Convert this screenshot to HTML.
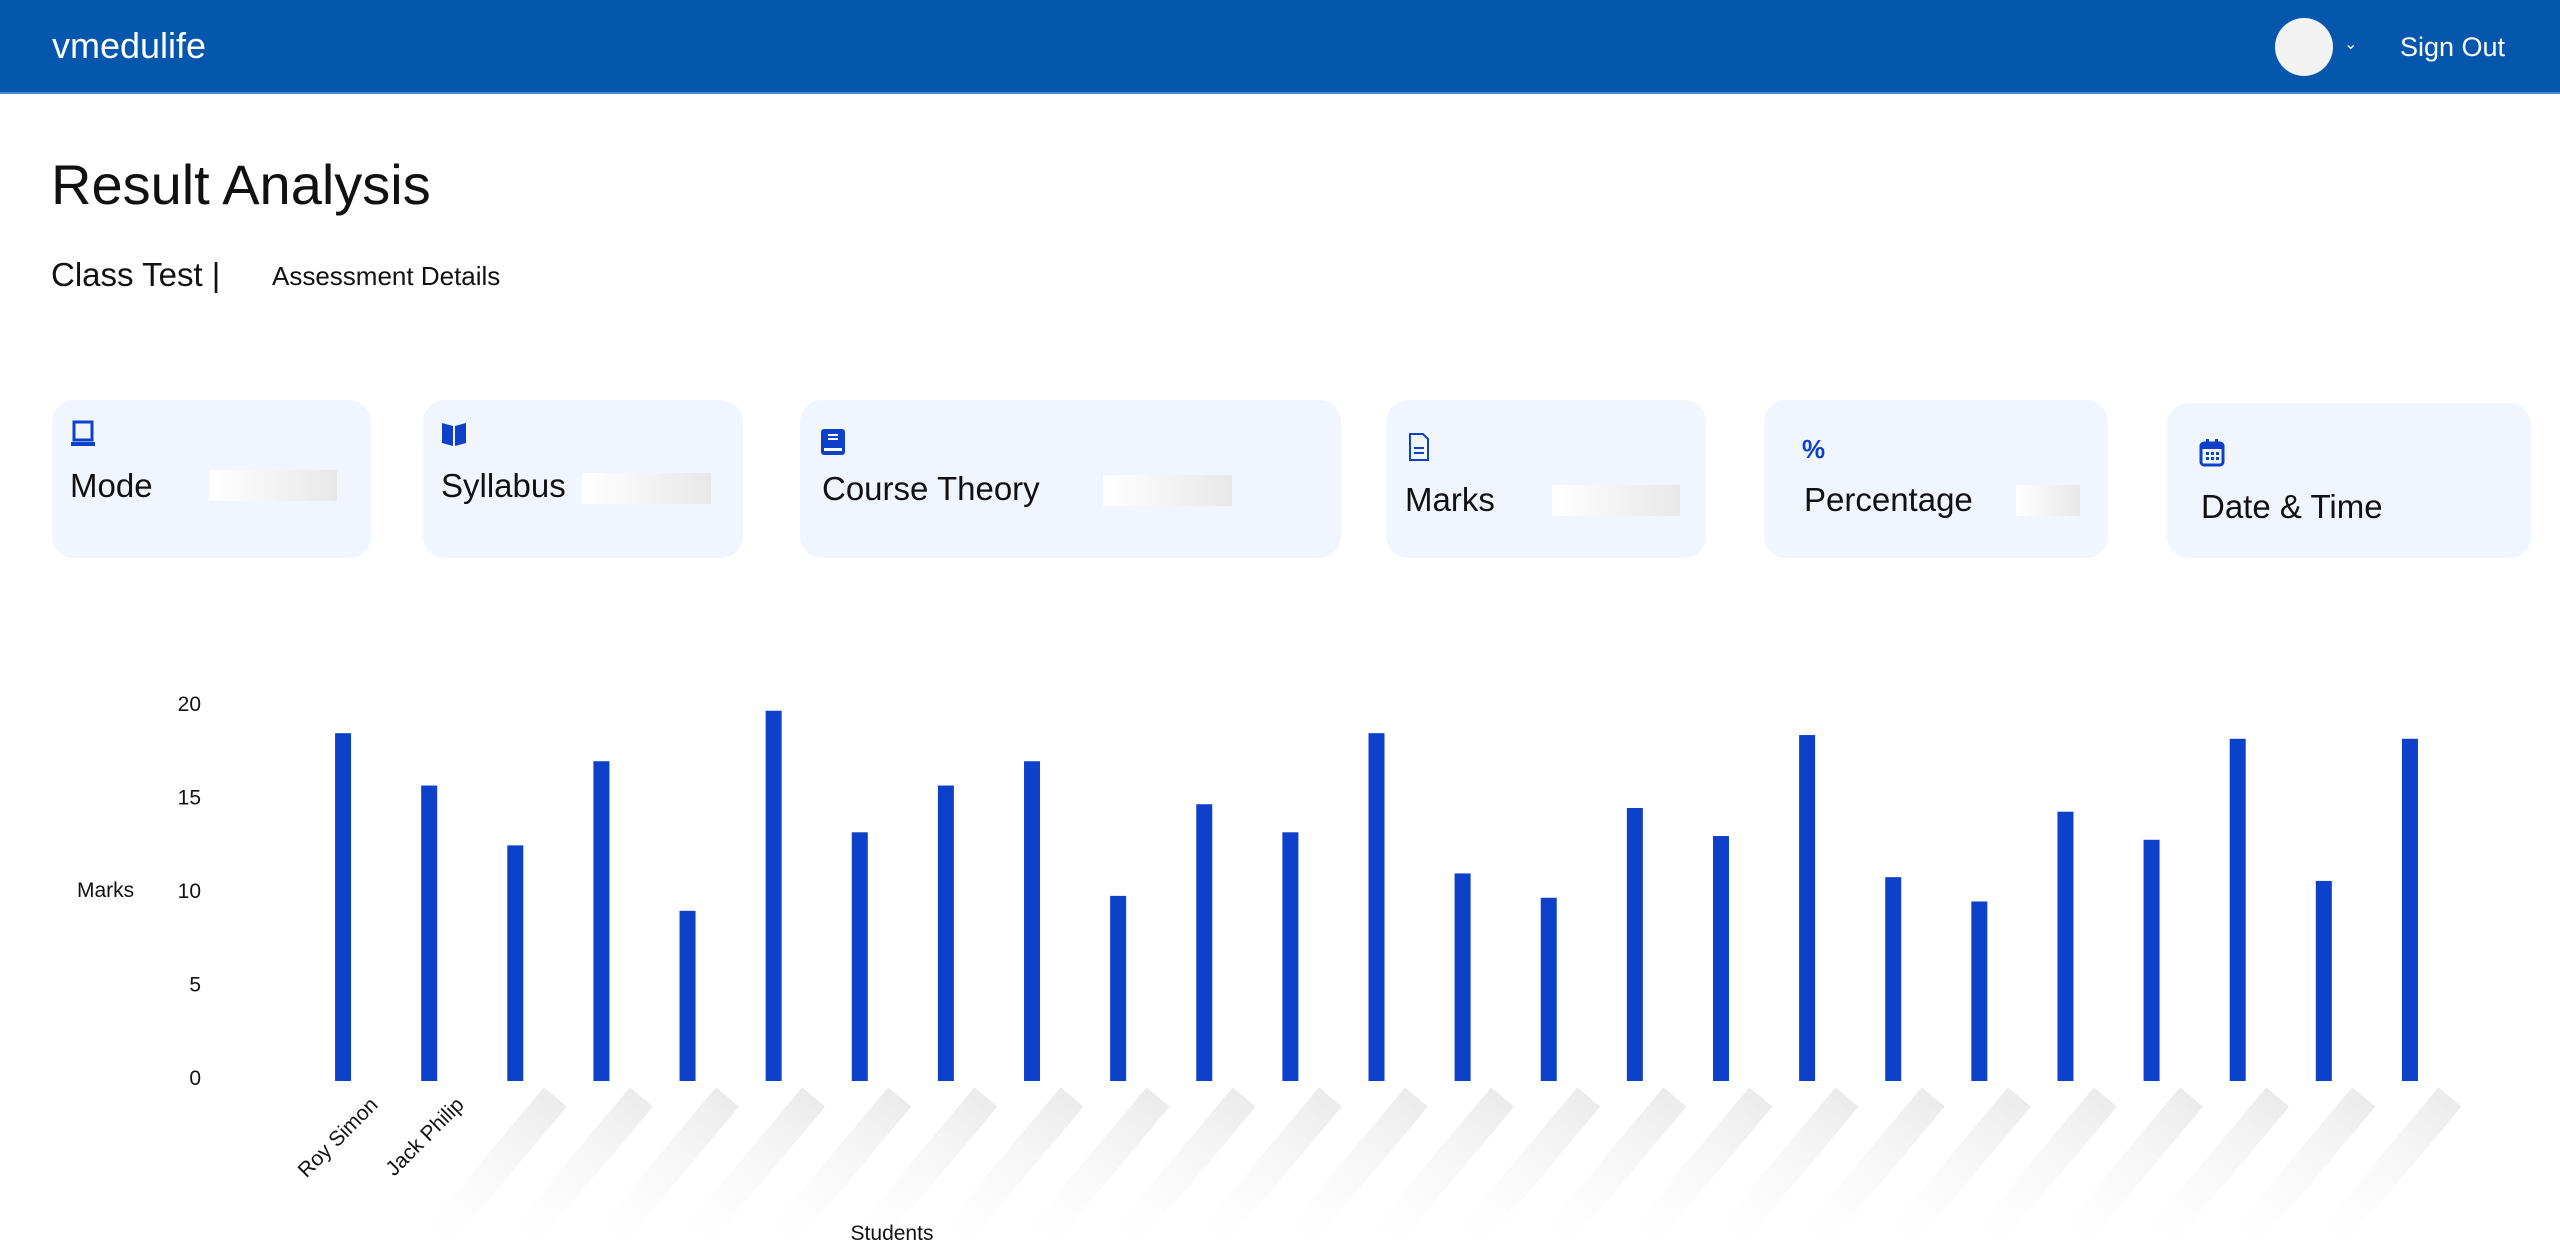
<!DOCTYPE html>
<html><head><meta charset="utf-8"><style>
*{margin:0;padding:0;box-sizing:border-box}
body{width:2560px;height:1259px;background:#fff;font-family:"Liberation Sans",sans-serif;position:relative;overflow:hidden;color:#111}
.hdr{position:absolute;left:0;top:0;width:2560px;height:94px;background:#0557ad;border-bottom:2px solid #4a8ad6}
.abs{position:absolute}
.card{position:absolute;background:#f0f5fe;border-radius:22px}
.card .lbl{position:absolute;font-size:33px;color:#111}
.ph{position:absolute;height:31px;background:linear-gradient(90deg,#fff,#e8e8e8)}
.ic{position:absolute;width:26px;height:28px}
</style></head><body>
<div class="hdr">
 <div class="abs" style="left:52px;top:25px;font-size:36px;color:#fff">vmedulife</div>
 <div class="abs" style="left:2275px;top:18px;width:58px;height:58px;border-radius:50%;background:#f2f2f2"></div>
 <div class="abs" style="left:2344px;top:34px;font-size:16px;color:#fff">&#8964;</div>
 <div class="abs" style="left:2400px;top:32px;font-size:27px;color:#fff">Sign Out</div>
</div>
<div class="abs" style="left:51px;top:152px;font-size:56px;color:#111">Result Analysis</div>
<div class="abs" style="left:51px;top:256px;font-size:33px">Class Test |</div>
<div class="abs" style="left:272px;top:261px;font-size:26px">Assessment Details</div>

<div class="card" style="left:52px;top:400px;width:319px;height:158px">
 <svg class="ic" style="left:18px;top:20px" viewBox="0 0 26 28"><rect x="4" y="2" width="18" height="18" fill="none" stroke="#0d41c9" stroke-width="3"/><rect x="1" y="22" width="24" height="4" fill="#0d41c9"/></svg>
 <div class="lbl" style="left:18px;top:67px">Mode</div>
 <div class="ph" style="left:157px;top:70px;width:128px"></div>
</div>
<div class="card" style="left:423px;top:400px;width:320px;height:158px">
 <svg class="ic" style="left:18px;top:20px" viewBox="0 0 26 28"><path d="M1 3 L12 6 L12 26 L1 23 Z M14 6 L25 3 L25 23 L14 26 Z" fill="#0d41c9"/></svg>
 <div class="lbl" style="left:18px;top:67px">Syllabus</div>
 <div class="ph" style="left:159px;top:73px;width:129px"></div>
</div>
<div class="card" style="left:800px;top:400px;width:541px;height:158px">
 <svg class="ic" style="left:20px;top:28px" viewBox="0 0 26 28"><rect x="1" y="1" width="24" height="26" rx="3" fill="#0d41c9"/><rect x="8" y="6" width="10" height="2" fill="#fff"/><rect x="8" y="10" width="10" height="2" fill="#fff"/><rect x="4" y="20" width="18" height="3" fill="#fff"/></svg>
 <div class="lbl" style="left:22px;top:70px">Course Theory</div>
 <div class="ph" style="left:303px;top:75px;width:129px"></div>
</div>
<div class="card" style="left:1386px;top:400px;width:320px;height:158px">
 <svg class="ic" style="left:20px;top:33px" viewBox="0 0 26 28"><path d="M4 1 H17 L22 6 V27 H4 Z" fill="none" stroke="#0d41c9" stroke-width="2"/><rect x="8" y="14" width="10" height="2" fill="#0d41c9"/><rect x="8" y="19" width="10" height="2" fill="#0d41c9"/></svg>
 <div class="lbl" style="left:19px;top:81px">Marks</div>
 <div class="ph" style="left:166px;top:85px;width:128px"></div>
</div>
<div class="card" style="left:1764px;top:400px;width:344px;height:158px">
 <div class="abs" style="left:38px;top:34px;font-size:26px;font-weight:bold;color:#0d41c9">%</div>
 <div class="lbl" style="left:40px;top:81px">Percentage</div>
 <div class="ph" style="left:252px;top:85px;width:64px"></div>
</div>
<div class="card" style="left:2167px;top:403px;width:364px;height:155px">
 <svg class="ic" style="left:32px;top:36px" viewBox="0 0 26 28"><rect x="2" y="4" width="22" height="22" rx="3" fill="none" stroke="#0d41c9" stroke-width="3"/><rect x="2" y="4" width="22" height="6" fill="#0d41c9"/><rect x="7" y="0" width="3" height="6" fill="#0d41c9"/><rect x="16" y="0" width="3" height="6" fill="#0d41c9"/><rect x="7" y="13" width="3" height="3" fill="#0d41c9"/><rect x="12" y="13" width="3" height="3" fill="#0d41c9"/><rect x="17" y="13" width="3" height="3" fill="#0d41c9"/><rect x="7" y="18" width="3" height="3" fill="#0d41c9"/><rect x="12" y="18" width="3" height="3" fill="#0d41c9"/><rect x="17" y="18" width="3" height="3" fill="#0d41c9"/></svg>
 <div class="lbl" style="left:34px;top:85px">Date &amp; Time</div>
</div>

<svg id="chart" class="abs" style="left:0;top:0" width="2560" height="1259" xmlns="http://www.w3.org/2000/svg">
 <defs><linearGradient id="sg" x1="0" y1="0" x2="1" y2="0"><stop offset="0" stop-color="#fff" stop-opacity="0.3"/><stop offset="1" stop-color="#ebebeb"/></linearGradient></defs>
</svg>
<script>
const categories=["Roy Simon","Jack Philip","","","","","","","","","","","","","","","","","","","","","","",""];
const marks=[18.6,15.8,12.6,17.1,9.1,19.8,13.3,15.8,17.1,9.9,14.8,13.3,18.6,11.1,9.8,14.6,13.1,18.5,10.9,9.6,14.4,12.9,18.3,10.7,18.3];
const yTicks=[0,5,10,15,20];
const svg=document.getElementById('chart');
const NS='http://www.w3.org/2000/svg';
const X0=300,X1=2453,Y0=1081,Y1=707,YMAX=20;
const band=(X1-X0)/categories.length;
function xScale(i){return X0+(i+0.5)*band;}
function yScale(v){return Y0-(v/YMAX)*(Y0-Y1);}
function mk(tag,attrs){const e=document.createElementNS(NS,tag);for(const k in attrs)e.setAttribute(k,attrs[k]);svg.appendChild(e);return e;}
yTicks.forEach(t=>{
 const e=mk('text',{x:201,y:yScale(t)+4,'text-anchor':'end','font-size':21,fill:'#111','font-family':'Liberation Sans, sans-serif'});
 e.textContent=t;
 
 
});
marks.forEach((v,i)=>{
 const r=mk('rect',{x:xScale(i)-8,y:yScale(v),width:16,height:Y0-yScale(v),fill:'#0d41c9'});
 
 
 const cx=xScale(i);
 if(categories[i]){
  const t=mk('text',{x:cx+36,y:1106,'text-anchor':'end','font-size':21,fill:'#111','font-family':'Liberation Sans, sans-serif',transform:`rotate(-45 ${cx+36} 1106)`});
  t.textContent=categories[i];
  
  
 } else {
  const sx=cx+40;
  const s=mk('rect',{x:sx-190,y:1097-15,width:190,height:30,fill:'url(#sg)',transform:`rotate(-50 ${sx} ${1097})`});
  
  
 }
});
const yt=mk('text',{x:77,y:897,'font-size':21,fill:'#111','font-family':'Liberation Sans, sans-serif'});
yt.textContent='Marks';


const xt=mk('text',{x:892,y:1240,'font-size':21,fill:'#111','text-anchor':'middle','font-family':'Liberation Sans, sans-serif'});
xt.textContent='Students';


</script>
</body></html>
